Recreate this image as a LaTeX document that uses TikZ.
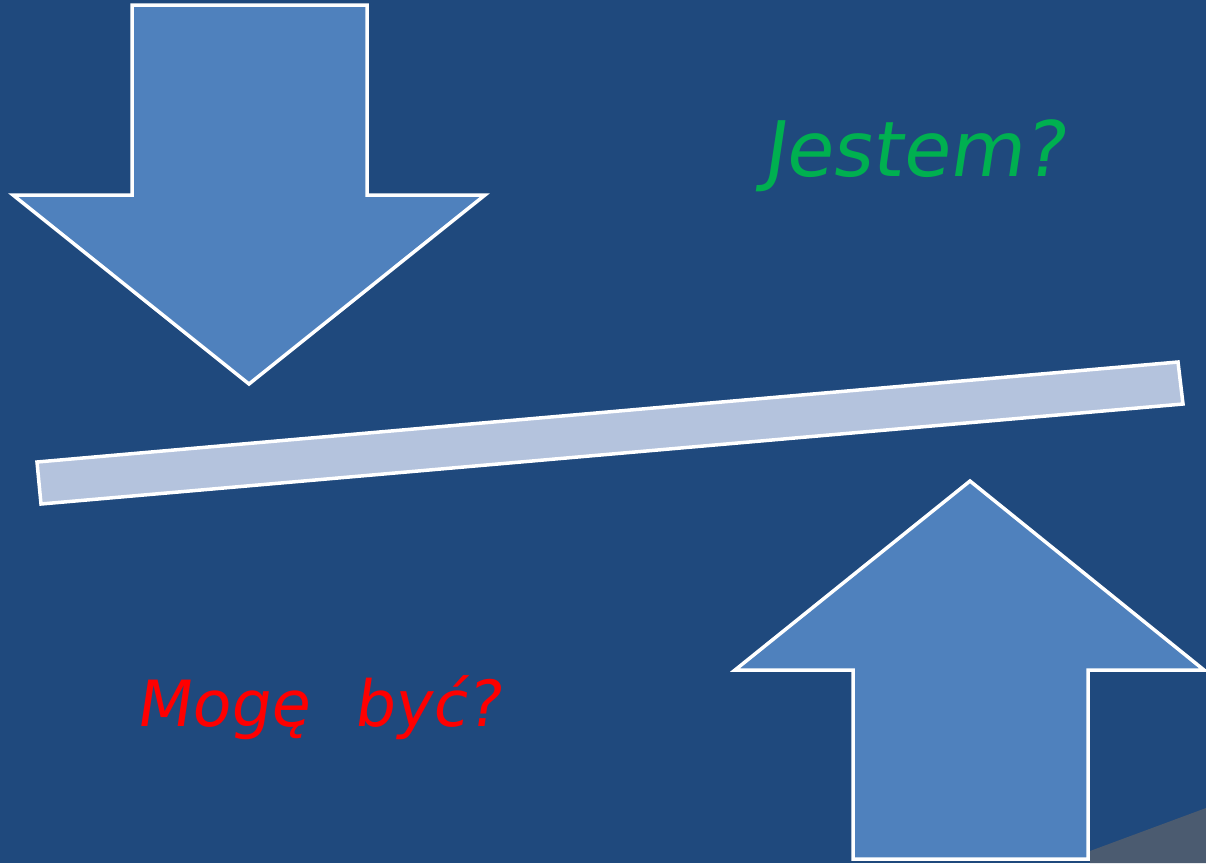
\documentclass[tikz,border=0pt]{standalone}
\usepackage{fontspec}
\setmainfont{DejaVu Sans}
\newfontfamily\handfont{DejaVu Sans}[FakeSlant=0.15]
\definecolor{bg}{HTML}{1F497D}
\definecolor{arrowfill}{HTML}{4F81BD}
\definecolor{barfill}{HTML}{B4C3DD}
\definecolor{greentxt}{HTML}{00B050}
\definecolor{corner}{HTML}{4B5B70}
\tikzset{
  bigarrow/.style={fill=arrowfill, draw=white, line width=3.5pt, line join=miter},
  barbox/.style={fill=barfill, draw=white, line width=3.5pt},
  label/.style={font=\handfont\fontsize{50}{60}\selectfont, inner sep=0pt}
}
\begin{document}
\begin{tikzpicture}[x=1pt,y=-1pt]
\useasboundingbox (0,0) rectangle (1206,863);
\fill[bg] (0,0) rectangle (1206,863);
\fill[corner] (1090,851) -- (1206,808) -- (1206,863) -- (1090,863) -- cycle;
% down arrow
\draw[bigarrow] (132,5) -- (367,5) -- (367,195) -- (485,195) -- (249,384) -- (13,195) -- (132,195) -- cycle;
% up arrow
\draw[bigarrow] (970,481) -- (1204,670) -- (1088,670) -- (1088,859) -- (853,859) -- (853,670) -- (735,670) -- cycle;
% bar
\draw[barbox] (37,462) -- (1178,362) -- (1183,404) -- (41,504) -- cycle;
% texts
\node[label, text=greentxt] (jestem) at (913,156) {\resizebox{302pt}{!}{Jestem?}};
\node[label, text=red, anchor=west] (moge) at (135,708) {\resizebox{365pt}{!}{Mogę\hspace{0.7em}być?}};
\end{tikzpicture}
\end{document}
